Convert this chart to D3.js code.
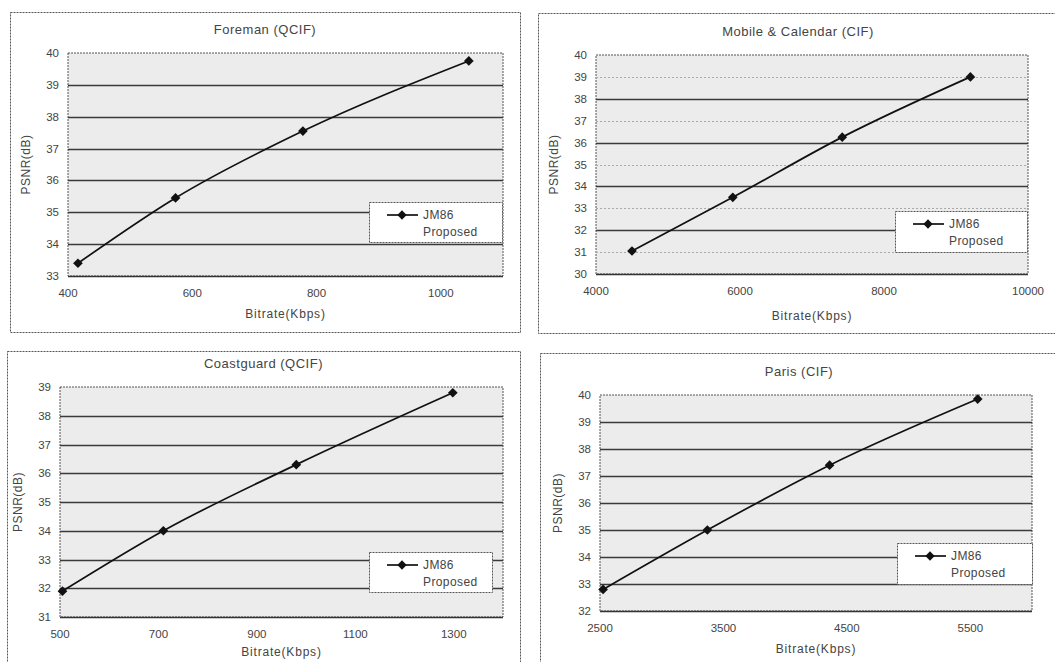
<!DOCTYPE html>
<html>
<head>
<meta charset="utf-8">
<script src="https://cdn.jsdelivr.net/npm/d3@7"></script>
<style>
  body { margin: 0; background: #fff; }
  svg text { font-family: "Liberation Sans", Arial, sans-serif; fill: #444; }
</style>
</head>
<body>
<svg id="chart" width="1055" height="662"></svg>
<script>
// data
const panelTitles = ['Foreman (QCIF)', 'Mobile & Calendar (CIF)', 'Coastguard (QCIF)', 'Paris (CIF)'];
const seriesNames = ['JM86', 'Proposed'];

const foremanRate = [416, 573, 778, 1045];
const foremanPsnr = [33.4, 35.45, 37.55, 39.75];
const foremanXTicks = [400, 600, 800, 1000];
const foremanYTicks = [33, 34, 35, 36, 37, 38, 39, 40];

const mobileRate = [4500, 5900, 7420, 9200];
const mobilePsnr = [31.05, 33.5, 36.25, 39.0];
const mobileXTicks = [4000, 6000, 8000, 10000];
const mobileYTicks = [30, 31, 32, 33, 34, 35, 36, 37, 38, 39, 40];

const coastRate = [505, 710, 980, 1298];
const coastPsnr = [31.9, 34.0, 36.3, 38.8];
const coastXTicks = [500, 700, 900, 1100, 1300];
const coastYTicks = [31, 32, 33, 34, 35, 36, 37, 38, 39];

const parisRate = [2525, 3370, 4360, 5560];
const parisPsnr = [32.8, 35.0, 37.4, 39.85];
const parisXTicks = [2500, 3500, 4500, 5500];
const parisYTicks = [32, 33, 34, 35, 36, 37, 38, 39, 40];

const panels = [
  { title: panelTitles[0], rate: foremanRate, psnr: foremanPsnr, xd: [400, 1100], yd: [33, 40], xt: foremanXTicks, yt: foremanYTicks,
    box: [10, 12, 510, 320], plot: [68, 53, 503, 276], leg: [369, 202, 133, 40], gridStep: 1, xlabY: 318 },
  { title: panelTitles[1], rate: mobileRate, psnr: mobilePsnr, xd: [4000, 10000], yd: [30, 40], xt: mobileXTicks, yt: mobileYTicks,
    box: [538, 13, 520, 320], plot: [596, 55, 1028, 274], leg: [895, 211, 132, 41], gridStep: 2, xlabY: 320 },
  { title: panelTitles[2], rate: coastRate, psnr: coastPsnr, xd: [500, 1400], yd: [31, 39], xt: coastXTicks, yt: coastYTicks,
    box: [7, 351, 513, 314], plot: [60, 387, 503, 617], leg: [369, 552, 123, 40], gridStep: 1, xlabY: 656 },
  { title: panelTitles[3], rate: parisRate, psnr: parisPsnr, xd: [2500, 6000], yd: [32, 40], xt: parisXTicks, yt: parisYTicks,
    box: [540, 353, 518, 312], plot: [600, 395, 1032, 611], leg: [897, 543, 135, 41], gridStep: 1, xlabY: 653 }
];

const svg = d3.select('#chart');

panels.forEach(p => {
  const [bx, by, bw, bh] = p.box;
  const [pl, pt, pr, pb] = p.plot;

  svg.append('rect')
    .attr('x', bx + 0.5).attr('y', by + 0.5)
    .attr('width', bw).attr('height', bh)
    .attr('fill', 'none').attr('stroke', '#555')
    .attr('stroke-dasharray', '2,1');

  const x = d3.scaleLinear().domain(p.xd).range([pl, pr]);
  const y = d3.scaleLinear().domain(p.yd).range([pb, pt]);

  const g = svg.append('g');

  g.append('rect')
    .attr('x', pl).attr('y', pt)
    .attr('width', pr - pl).attr('height', pb - pt)
    .attr('fill', '#ececec')
    .attr('stroke', '#555').attr('stroke-dasharray', '2,1');

  // grid lines
  g.selectAll('line.grid')
    .data(p.yt.filter(v => v > p.yd[0] && v < p.yd[1]))
    .enter().append('line')
    .attr('x1', pl).attr('x2', pr)
    .attr('y1', d => Math.round(y(d)) + 0.5).attr('y2', d => Math.round(y(d)) + 0.5)
    .attr('stroke', d => (d - p.yd[0]) % p.gridStep === 0 ? '#3a3a3a' : '#aaa')
    .attr('stroke-width', d => (d - p.yd[0]) % p.gridStep === 0 ? 1.3 : 1)
    .attr('stroke-dasharray', d => (d - p.yd[0]) % p.gridStep === 0 ? null : '2,2');

  // bottom axis line
  g.append('line')
    .attr('x1', pl).attr('x2', pr)
    .attr('y1', pb + 0.5).attr('y2', pb + 0.5)
    .attr('stroke', '#333').attr('stroke-width', 1.3);

  // y tick labels
  g.selectAll('text.yt')
    .data(p.yt)
    .enter().append('text')
    .attr('x', pl - 9)
    .attr('y', d => y(d))
    .attr('dy', '0.35em')
    .attr('text-anchor', 'end')
    .attr('font-size', 11.5)
    .text(d => d);

  // x tick labels
  g.selectAll('text.xt')
    .data(p.xt)
    .enter().append('text')
    .attr('x', d => x(d))
    .attr('y', pb + 21)
    .attr('text-anchor', 'middle')
    .attr('font-size', 11.5)
    .text(d => d);

  g.append('text')
    .attr('x', (pl + pr) / 2)
    .attr('y', p.xlabY)
    .attr('text-anchor', 'middle')
    .attr('font-size', 12)
    .attr('letter-spacing', 0.8)
    .text('Bitrate(Kbps)');

  g.append('text')
    .attr('transform', `translate(${pl - 38},${(pt + pb) / 2}) rotate(-90)`)
    .attr('text-anchor', 'middle')
    .attr('font-size', 12)
    .attr('letter-spacing', 0.5)
    .text('PSNR(dB)');

  g.append('text')
    .attr('x', (bx + bx + bw) / 2)
    .attr('y', pt - 19)
    .attr('text-anchor', 'middle')
    .attr('font-size', 13)
    .attr('letter-spacing', 0.5)
    .text(p.title);

  // series line
  const pts = p.rate.map((r, i) => [r, p.psnr[i]]);
  const line = d3.line()
    .x(d => x(d[0])).y(d => y(d[1]))
    .curve(d3.curveMonotoneX);

  g.append('path')
    .datum(pts)
    .attr('d', line)
    .attr('fill', 'none')
    .attr('stroke', '#111')
    .attr('stroke-width', 1.7);

  g.selectAll('path.mk')
    .data(pts)
    .enter().append('path')
    .attr('d', d3.symbol(d3.symbolDiamond2, 60))
    .attr('transform', d => `translate(${x(d[0])},${y(d[1])})`)
    .attr('fill', '#111');

  // legend
  const [lx, ly, lw, lh] = p.leg;
  const leg = g.append('g');
  leg.append('rect')
    .attr('x', lx + 0.5).attr('y', ly + 0.5)
    .attr('width', lw).attr('height', lh)
    .attr('fill', '#fff')
    .attr('stroke', '#555').attr('stroke-dasharray', '2,1');
  leg.append('line')
    .attr('x1', lx + 18).attr('x2', lx + 49)
    .attr('y1', ly + 13).attr('y2', ly + 13)
    .attr('stroke', '#111').attr('stroke-width', 1.7);
  leg.append('path')
    .attr('d', d3.symbol(d3.symbolDiamond2, 55))
    .attr('transform', `translate(${lx + 33},${ly + 13})`)
    .attr('fill', '#111');
  leg.selectAll('text')
    .data(seriesNames)
    .enter().append('text')
    .attr('x', lx + 54)
    .attr('y', (d, i) => ly + 13 + i * 17)
    .attr('dy', '0.35em')
    .attr('font-size', 12)
    .attr('letter-spacing', 0.4)
    .text(d => d);
});
</script>
</body>
</html>
